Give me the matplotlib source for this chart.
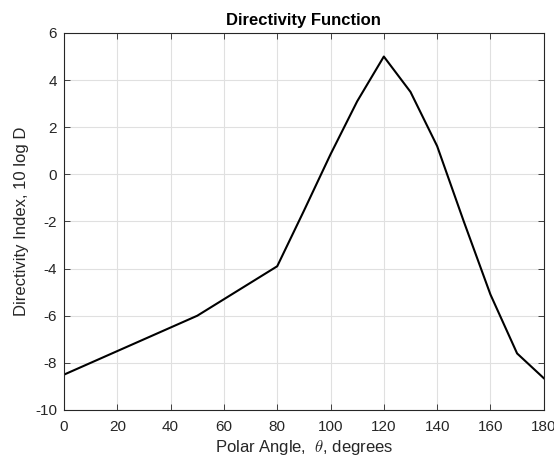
import matplotlib
matplotlib.use('Agg')
import matplotlib.pyplot as plt

# polar angle (deg) and directivity index (dB)
theta = [0, 50, 80, 90, 100, 110, 120, 130, 140, 150, 160, 170, 180]
di = [-8.5, -6.0, -3.9, -1.55, 0.85, 3.1, 5.0, 3.5, 1.2, -2.0, -5.1, -7.6, -8.65]

xticks = list(range(0, 181, 20))
yticks = list(range(-10, 7, 2))

plt.rcParams['font.family'] = ['Liberation Sans', 'DejaVu Sans']
plt.rcParams['mathtext.fontset'] = 'cm'
plt.rcParams['axes.unicode_minus'] = False

fig = plt.figure(figsize=(5.54, 4.62), dpi=100)
ax = fig.add_axes([0.1155, 0.1126, 0.866, 0.816])
ax.plot(theta, di, color='black', linewidth=1.5)

ax.set_xlim(0, 180)
ax.set_ylim(-10, 6)
ax.set_xticks(xticks)
ax.set_yticks(yticks)
ax.grid(True, color='#e0e0e0', linewidth=0.8)
ax.set_axisbelow(True)
ax.tick_params(direction='in', length=4, width=0.6, labelsize=11,
               colors='#262626', top=True, right=True)
ax.tick_params(axis='x', pad=7)
ax.tick_params(axis='y', pad=5)
for s in ax.spines.values():
    s.set_color('#262626')
    s.set_linewidth(0.8)

ax.set_xlabel(r'Polar Angle,  $\theta$, degrees', fontsize=12, color='#262626', labelpad=3)
ax.set_ylabel('Directivity Index, 10 log D', fontsize=12, color='#262626', labelpad=4)
ax.set_title('Directivity Function', fontsize=12, fontweight='bold', pad=6)

fig.savefig('out.png', dpi=100)
